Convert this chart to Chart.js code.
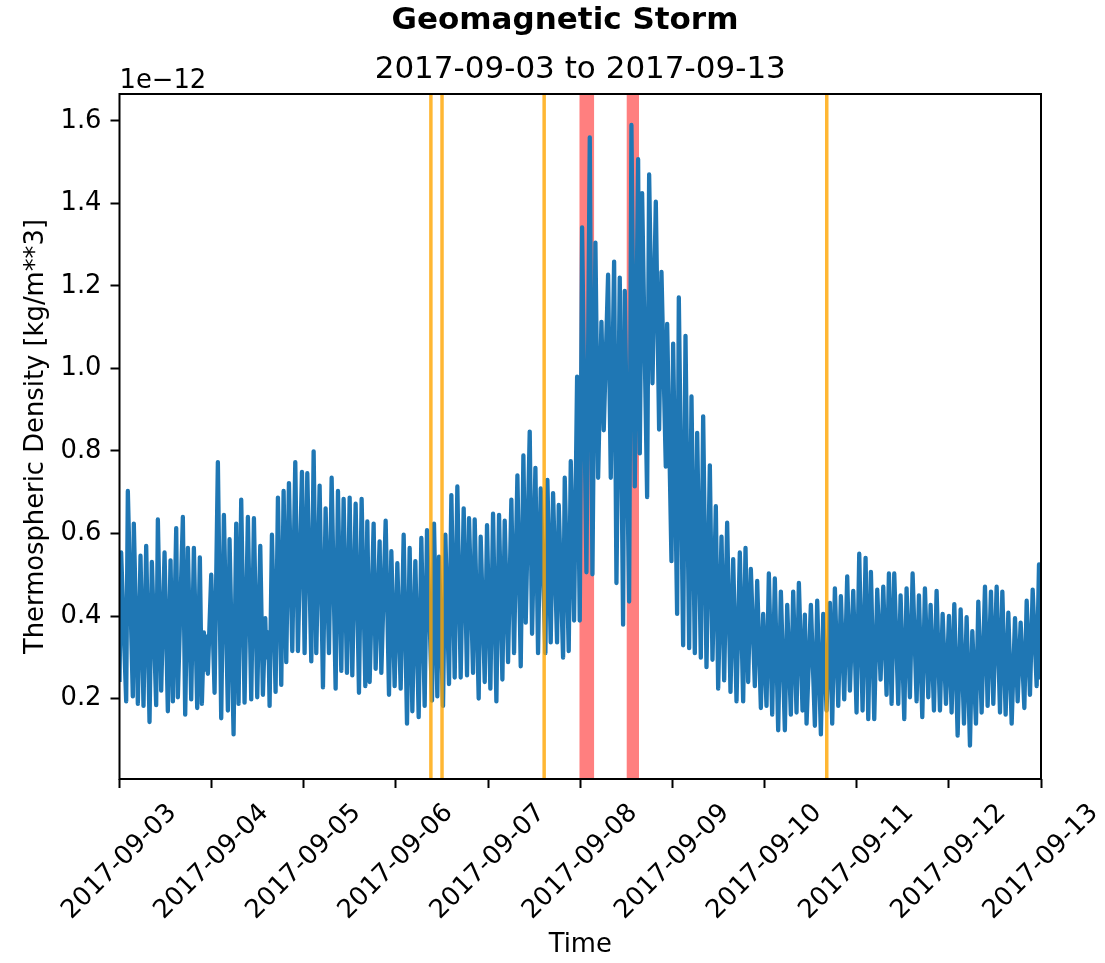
<!DOCTYPE html>
<html>
<head>
<meta charset="utf-8">
<script src="https://cdn.jsdelivr.net/npm/chart.js@4.4.0/dist/chart.umd.min.js"></script>
<style>
  html, body { margin: 0; padding: 0; background: #ffffff; }
  canvas { display: block; }
</style>
</head>
<body>
<canvas id="c" width="1105" height="963" style="width:1105px;height:963px"></canvas>
<script>
// ---- Data (density in units of 1e-12 kg/m**3, time in hours since 2017-09-03 00:00) ----
const timeHours = [
  0.0, 0.43, 1.74, 2.17, 3.47, 3.73, 4.78, 5.47, 6.25, 6.95, 7.82, 8.43, 9.55, 9.99, 10.86, 11.73,
  12.59, 13.29, 13.90, 14.77, 15.20, 16.50, 17.11, 17.81, 18.68, 19.37, 20.24, 20.93, 21.45, 21.98,
  22.32, 22.67, 23.02, 23.45, 23.89, 24.76, 25.62, 26.49, 27.19, 28.23, 28.66, 29.71, 30.40, 31.01,
  31.70, 32.57, 33.44, 34.31, 35.01, 35.87, 36.66, 37.35, 37.96, 38.22, 38.65, 38.91, 39.09, 39.70,
  40.65, 41.26, 42.13, 42.74, 43.43, 44.13, 45.00, 45.78, 46.47, 47.52, 48.21, 48.91, 49.95, 50.56,
  51.25, 52.12, 52.99, 53.68, 54.55, 55.25, 56.29, 56.90, 57.77, 58.37, 59.24, 59.94, 60.63, 61.50,
  62.37, 63.06, 64.02, 64.54, 65.15, 66.19, 66.71, 67.75, 68.19, 69.32, 70.19, 70.80, 71.66, 72.36,
  73.23, 74.01, 74.88, 75.57, 76.27, 77.05, 77.92, 78.61, 79.48, 80.09,
  81.39, 81.91, 82.78, 83.22, 84.26, 84.87, 85.82, 86.43, 87.30, 87.99, 88.86, 89.64, 90.51, 91.03,
  92.08, 92.51, 93.55, 94.07, 95.12, 95.72, 96.59, 97.29, 98.16, 98.85, 99.72, 100.33, 101.20, 102.06,
  102.76, 103.63, 104.50, 105.19, 105.80, 106.84, 107.45, 108.32, 109.01, 109.71, 110.92, 111.44,
  112.31, 112.92, 113.96, 114.40, 115.53, 115.96, 117.00, 117.53, 118.39, 119.18, 119.87, 120.48,
  121.61, 122.48, 123.17, 123.95, 124.65, 125.52, 126.12, 127.25, 127.95, 128.82, 129.43, 130.29,
  131.16, 131.60, 132.73, 133.33, 134.20, 135.07, 135.51, 136.11, 137.42, 137.94, 138.81, 139.68,
  140.54, 141.15, 142.28, 142.63, 143.76, 144.19, 145.23, 145.67, 146.80, 147.41, 148.36, 148.97,
  149.84, 150.45, 151.40, 152.01, 152.88, 153.75, 154.44, 155.31, 155.92, 156.79, 157.48, 158.26,
  159.13, 159.83, 160.70,
  161.56, 162.43, 163.04, 163.73, 164.43, 165.47, 166.08, 167.04, 167.64, 168.51, 169.12, 169.99,
  170.68, 171.55, 172.25, 173.29, 173.90, 174.85, 175.46, 176.33, 176.94, 177.89, 178.50, 178.94,
  180.07, 181.11, 181.71, 182.67, 183.28, 184.15, 185.02, 185.62, 186.32, 187.19, 187.88, 188.75,
  189.53, 190.23, 191.10, 191.96, 192.66, 193.53, 194.31, 195.01, 195.70, 196.57, 197.35, 198.22,
  198.92, 199.78, 200.39, 201.09, 201.78,
  202.82, 203.43, 204.39, 204.99, 205.86, 206.56, 207.60, 208.21, 209.08, 209.77, 210.64, 211.25,
  212.12, 212.81, 213.68, 214.38, 215.25, 216.03, 216.72, 217.42, 218.29, 219.07, 219.94, 220.63,
  221.50, 222.11, 223.06, 223.67, 224.54, 225.41, 226.10, 226.97, 227.58, 228.45, 229.32, 229.93,
  230.79, 231.49, 232.36, 233.23, 233.92, 234.70, 235.66, 236.27, 237.13, 237.83, 238.87, 239.48, 240.0
];
const density = [
  0.240, 0.554, 0.193, 0.703, 0.205, 0.624, 0.187, 0.546, 0.182, 0.570, 0.143, 0.531, 0.184, 0.634, 0.219, 0.554,
  0.169, 0.535, 0.193, 0.613, 0.203, 0.640, 0.161, 0.565, 0.198, 0.565, 0.177, 0.542, 0.187, 0.360,
  0.270, 0.350, 0.260, 0.380, 0.500, 0.214, 0.773, 0.152, 0.645, 0.171, 0.586, 0.113, 0.624, 0.187,
  0.682, 0.190, 0.640, 0.198, 0.637, 0.203, 0.570, 0.209, 0.395, 0.300, 0.360, 0.280, 0.182, 0.597,
  0.216, 0.687, 0.233, 0.703, 0.288, 0.722, 0.315, 0.773, 0.315, 0.749, 0.310, 0.746, 0.290, 0.799,
  0.310, 0.716, 0.227, 0.661, 0.310, 0.735, 0.224, 0.703, 0.267, 0.684, 0.262, 0.687, 0.256, 0.672,
  0.214, 0.684, 0.230, 0.629, 0.240, 0.624, 0.272, 0.581, 0.262, 0.631, 0.209, 0.557, 0.230, 0.528,
  0.224, 0.597, 0.139, 0.565, 0.169, 0.533, 0.155, 0.589, 0.182, 0.608,
  0.195, 0.624, 0.205, 0.544, 0.182, 0.597, 0.235, 0.693, 0.251, 0.714, 0.251, 0.661, 0.256, 0.637,
  0.262, 0.634, 0.200, 0.592, 0.240, 0.620, 0.224, 0.648, 0.193, 0.645, 0.246, 0.631, 0.288, 0.682,
  0.310, 0.741, 0.278, 0.789, 0.384, 0.847, 0.357, 0.759, 0.310, 0.709, 0.310, 0.730,
  0.336, 0.698, 0.336, 0.669, 0.299, 0.735, 0.315, 0.775, 0.389, 0.980, 0.389, 1.342,
  0.506, 1.560, 0.501, 1.305, 0.735, 1.113, 0.850, 1.227, 0.735, 1.259, 0.480, 1.220,
  0.379, 1.188, 0.435, 1.590, 0.714, 1.507, 0.794, 1.425, 0.688, 1.470, 0.964, 1.404,
  0.852, 1.234, 0.762, 1.108, 0.533, 1.060, 0.405, 1.172, 0.329, 1.079, 0.322, 0.932,
  0.310, 0.844, 0.299, 0.884, 0.276, 0.765, 0.294, 0.666, 0.224, 0.592, 0.244, 0.626,
  0.216, 0.538, 0.193,
  0.554, 0.193, 0.565, 0.240, 0.514, 0.230, 0.485, 0.177, 0.405, 0.182, 0.503, 0.161,
  0.491, 0.123, 0.459, 0.123, 0.427, 0.161, 0.459, 0.166, 0.480, 0.171, 0.403, 0.139,
  0.427, 0.134, 0.437, 0.113, 0.405, 0.171, 0.432, 0.139, 0.467, 0.182, 0.448, 0.198,
  0.496, 0.219, 0.461, 0.166, 0.551, 0.171, 0.541, 0.150, 0.507, 0.150, 0.464, 0.246,
  0.471, 0.209, 0.503, 0.187, 0.503,
  0.187, 0.450, 0.150, 0.467, 0.203, 0.503, 0.193, 0.450, 0.155, 0.467, 0.203, 0.427,
  0.171, 0.461, 0.171, 0.405, 0.187, 0.400, 0.166, 0.429, 0.110, 0.416, 0.139, 0.397,
  0.086, 0.363, 0.139, 0.435, 0.166, 0.471, 0.182, 0.459, 0.187, 0.471, 0.166, 0.459,
  0.161, 0.408, 0.139, 0.395, 0.193, 0.384, 0.177, 0.437, 0.209, 0.464, 0.230, 0.525, 0.246
];
const xTickHours = [0, 24, 48, 72, 96, 120, 144, 168, 192, 216, 240];
const xTickLabels = ['2017-09-03', '2017-09-04', '2017-09-05', '2017-09-06', '2017-09-07',
  '2017-09-08', '2017-09-09', '2017-09-10', '2017-09-11', '2017-09-12', '2017-09-13'];
const yTicks = [0.2, 0.4, 0.6, 0.8, 1.0, 1.2, 1.4, 1.6];
const yTickLabels = ['0.2', '0.4', '0.6', '0.8', '1.0', '1.2', '1.4', '1.6'];
const eventLineHours = [81.1, 84.0, 110.6, 184.2];
const stormBandStart = [119.8, 132.1];
const stormBandEnd = [123.6, 135.3];

const FONT = "'DejaVu Sans', 'Liberation Sans', sans-serif";

const annotations = {
  id: 'annotations',
  beforeDatasetsDraw(chart) {
    const { ctx, chartArea: a, scales: { x } } = chart;
    ctx.save();
    ctx.fillStyle = 'rgba(255,0,0,0.5)';
    for (let i = 0; i < stormBandStart.length; i++) {
      const x0 = x.getPixelForValue(stormBandStart[i]);
      const x1 = x.getPixelForValue(stormBandEnd[i]);
      ctx.fillRect(x0, a.top, x1 - x0, a.bottom - a.top);
    }
    ctx.restore();
  },
  afterDatasetsDraw(chart) {
    const { ctx, chartArea: a, scales: { x } } = chart;
    ctx.save();
    ctx.strokeStyle = 'rgba(255,165,0,0.8)';
    ctx.lineWidth = 3.5;
    for (const t of eventLineHours) {
      const px = x.getPixelForValue(t);
      ctx.beginPath();
      ctx.moveTo(px, a.top);
      ctx.lineTo(px, a.bottom);
      ctx.stroke();
    }
    ctx.strokeStyle = '#000';
    ctx.lineWidth = 2;
    ctx.strokeRect(a.left, a.top, a.right - a.left, a.bottom - a.top);
    ctx.restore();
  },
  afterDraw(chart) {
    const { ctx, chartArea: a, scales: { x } } = chart;
    ctx.save();
    ctx.fillStyle = '#000';
    ctx.textAlign = 'center';
    ctx.textBaseline = 'alphabetic';
    ctx.font = "bold 31px " + FONT;
    ctx.fillText('Geomagnetic Storm', 565, 29);
    ctx.font = "31px " + FONT;
    ctx.fillText('2017-09-03 to 2017-09-13', (a.left + a.right) / 2, 78);
    ctx.font = "25.8px " + FONT;
    ctx.textAlign = 'left';
    ctx.fillText('1e\u221212', a.left, 88);
    ctx.textAlign = 'center';
    ctx.fillText('Time', (a.left + a.right) / 2, 952);
    ctx.save();
    ctx.translate(43, (a.top + a.bottom) / 2);
    ctx.rotate(-Math.PI / 2);
    ctx.textAlign = 'center';
    ctx.textBaseline = 'alphabetic';
    ctx.fillText('Thermospheric Density [kg/m**3]', 0, 0);
    ctx.restore();
    for (let i = 0; i < xTickHours.length; i++) {
      const px = x.getPixelForValue(xTickHours[i]);
      ctx.save();
      ctx.translate(px, 862);
      ctx.rotate(-Math.PI / 4);
      ctx.textAlign = 'center';
      ctx.textBaseline = 'middle';
      ctx.fillText(xTickLabels[i], 0, 0);
      ctx.restore();
    }
    ctx.restore();
  }
};

new Chart(document.getElementById('c'), {
  type: 'line',
  data: {
    datasets: [{
      data: timeHours.map((t, i) => ({ x: t, y: density[i] })),
      borderColor: '#1f77b4',
      borderWidth: 4.3,
      pointRadius: 0,
      tension: 0,
      borderJoinStyle: 'round',
      fill: false,
      clip: 0
    }]
  },
  options: {
    responsive: false,
    animation: false,
    devicePixelRatio: 1,
    events: [],
    layout: { padding: { left: 0, right: 64, top: 94, bottom: 0 } },
    plugins: { legend: { display: false }, tooltip: { enabled: false }, title: { display: false } },
    scales: {
      x: {
        type: 'linear',
        min: 0,
        max: 240,
        afterBuildTicks: s => { s.ticks = xTickHours.map(v => ({ value: v })); },
        afterFit: s => { s.height = 184; },
        ticks: { display: false },
        grid: { display: true, drawOnChartArea: false, drawTicks: true, tickLength: 9, tickWidth: 2, tickColor: '#000' },
        border: { display: false }
      },
      y: {
        type: 'linear',
        min: 0.005,
        max: 1.665,
        afterBuildTicks: s => { s.ticks = yTicks.map(v => ({ value: v })); },
        afterFit: s => { s.width = 119.5; },
        ticks: {
          font: { family: FONT, size: 25.8 },
          color: '#000',
          padding: 9,
          callback: (v, i) => yTickLabels[i]
        },
        grid: { display: true, drawOnChartArea: false, drawTicks: true, tickLength: 9, tickWidth: 2, tickColor: '#000' },
        border: { display: false }
      }
    }
  },
  plugins: [annotations]
});
</script>
</body>
</html>
